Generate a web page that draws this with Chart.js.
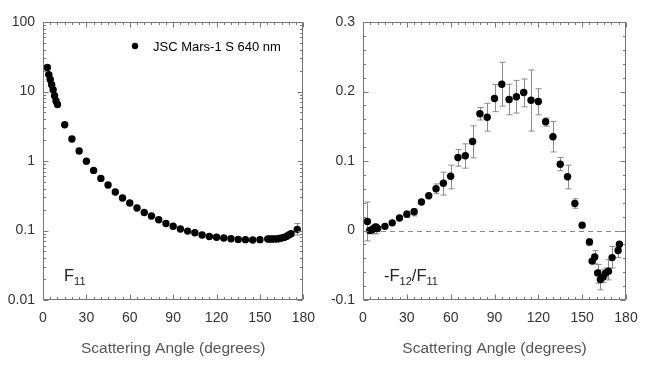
<!DOCTYPE html>
<html>
<head>
<meta charset="utf-8">
<script src="https://cdn.jsdelivr.net/npm/chart.js@4.4.1/dist/chart.umd.min.js"></script>
<style>
body{margin:0;background:#fff;width:650px;height:382px;position:relative;overflow:hidden}
canvas{position:absolute;top:0}
</style>
</head>
<body>
<canvas id="chartF11" width="325" height="382" style="left:0"></canvas>
<canvas id="chartPol" width="325" height="382" style="left:325px"></canvas>
<script>
// tick labels
var xTicks = [0, 30, 60, 90, 120, 150, 180];
var f11Ticks = [0.01, 0.1, 1, 10, 100];
var polTicks = [-0.1, 0, 0.1, 0.2, 0.3];

// F11 (left panel)
var f11Angle = [3, 4, 5, 6, 7, 8, 9, 10, 15, 20, 25, 30, 35, 40, 45, 50, 55, 60, 65, 70, 75, 80, 85, 90, 95, 100,
	105, 110, 115, 120, 125, 130, 135, 140, 145, 150, 155.4, 157, 158.6, 160.2, 161.9, 163.5, 165, 166.7, 168.3, 169.9, 171.5, 175.8];
var f11Value = [22.2, 17.5, 14.9, 12.5, 10.6, 8.7, 7.3, 6.5, 3.33, 2.07, 1.39, 0.99, 0.733, 0.562, 0.452, 0.358, 0.294, 0.249,
	0.211, 0.182, 0.162, 0.143, 0.126, 0.115, 0.105, 0.098, 0.093, 0.086, 0.082, 0.080, 0.078, 0.076, 0.0745, 0.0738, 0.073,
	0.0738, 0.0755, 0.0755, 0.0755, 0.0757, 0.0757, 0.0769, 0.078, 0.0796, 0.0822, 0.0861, 0.09, 0.1038];
var f11ErrAngle = [175.8];
var f11ErrLo = [0.086];
var f11ErrHi = [0.126];

// -F12/F11 (right panel)
var polAngle = [3, 4.6, 6, 7.3, 8.7, 10, 15, 20, 25, 30, 35, 40, 45, 50, 55, 60, 65, 70, 75, 80, 85, 90, 95, 100, 105, 110,
	115, 120, 125, 130, 135, 140, 145, 150, 155, 156.8, 158.6, 160.6, 162.5, 164.3, 166.1, 168, 170.5, 174.6, 175.5];
var polValue = [0.013, 0.0, 0.001, 0.003, 0.005, 0.003, 0.006, 0.011, 0.018, 0.0235, 0.027, 0.041, 0.050, 0.060, 0.068, 0.078,
	0.105, 0.1075, 0.128, 0.168, 0.163, 0.190, 0.2105, 0.1885, 0.1924, 0.1986, 0.1875, 0.1856, 0.1564, 0.1348, 0.0954, 0.0773,
	0.0388, 0.0077, -0.0165, -0.044, -0.038, -0.061, -0.0705, -0.067, -0.061, -0.0585, -0.039, -0.0288, -0.0197];
var polErrLo = [-0.015, null, null, -0.005, -0.004, null, null, null, null, 0.019, 0.021, null, null, 0.053, 0.051, 0.060,
	0.0925, 0.0897, 0.1046, 0.159, 0.143, 0.171, 0.179, 0.1665, 0.169, 0.178, 0.143, 0.1665, 0.150, 0.113, 0.086, 0.060,
	0.032, null, -0.021, null, -0.048, -0.0758, -0.0853, -0.075, -0.068, -0.071, -0.054, -0.039, null];
var polErrHi = [0.041, null, null, 0.009, 0.009, null, null, null, null, 0.028, 0.031, null, null, 0.067, 0.084, 0.094,
	0.1165, 0.1247, 0.1506, 0.177, 0.183, 0.21, 0.242, 0.2105, 0.216, 0.218, 0.231, 0.204, 0.162, 0.157, 0.105, 0.094,
	0.0456, null, -0.012, null, -0.029, -0.049, -0.0566, -0.06, -0.054, -0.042, -0.023, -0.025, null];

Chart.defaults.font.family = "'Liberation Sans', Arial, sans-serif";

function toPoints(xs, ys){
	var pts = [];
	for(var i=0; i<xs.length; i++){
		pts.push({x: xs[i], y: ys[i]});
	}
	return pts;
}

// frame, inner ticks, error bars and in-plot labels
var framePlugin = {
	id: 'frame',
	beforeDatasetsDraw: function(chart, args, o){
		var ctx = chart.ctx, a = chart.chartArea;
		var xs = chart.scales.x, ys = chart.scales.y;
		ctx.save();
		ctx.lineWidth = 1;
		if(o.zeroLine){
			var y0 = Math.round(ys.getPixelForValue(0)) + 0.5;
			ctx.strokeStyle = '#888';
			ctx.setLineDash([5, 4]);
			ctx.beginPath(); ctx.moveTo(a.left, y0); ctx.lineTo(a.right, y0); ctx.stroke();
			ctx.setLineDash([]);
		}
		ctx.strokeStyle = '#8a8a8a';
		(o.bars || []).forEach(function(b){
			var x = Math.round(xs.getPixelForValue(b.x)) + 0.5;
			var y1 = ys.getPixelForValue(b.lo), y2 = ys.getPixelForValue(b.hi);
			ctx.beginPath();
			ctx.moveTo(x, y1); ctx.lineTo(x, y2);
			ctx.moveTo(x-3, y1); ctx.lineTo(x+3, y1);
			ctx.moveTo(x-3, y2); ctx.lineTo(x+3, y2);
			ctx.stroke();
		});
		ctx.restore();
	},
	afterDraw: function(chart, args, o){
		var ctx = chart.ctx, a = chart.chartArea;
		var xs = chart.scales.x, ys = chart.scales.y;
		var L = Math.round(a.left)+0.5, R = Math.round(a.right)-0.5, T = Math.round(a.top)+0.5, B = Math.round(a.bottom)-0.5;
		ctx.save();
		ctx.strokeStyle = '#777';
		ctx.lineWidth = 1;
		ctx.strokeRect(L, T, R-L, B-T);
		ctx.beginPath();
		for(var d=0; d<=180; d+=5){
			var x = Math.round(xs.getPixelForValue(d))+0.5;
			var len = (d % 30 === 0) ? 5 : 2.5;
			ctx.moveTo(x, B); ctx.lineTo(x, B-len);
			ctx.moveTo(x, T); ctx.lineTo(x, T+len);
		}
		o.yMinor.forEach(function(v){
			var y = Math.round(ys.getPixelForValue(v.v))+0.5;
			var len = v.major ? 5 : 2.5;
			ctx.moveTo(L, y); ctx.lineTo(L+len, y);
			ctx.moveTo(R, y); ctx.lineTo(R-len, y);
		});
		ctx.stroke();

		// panel label with subscripts
		ctx.fillStyle = '#222';
		ctx.textBaseline = 'alphabetic';
		var px = a.left + 21, py = a.bottom - 19;
		o.label.forEach(function(part){
			ctx.font = (part.sub ? '11px ' : '16.5px ') + Chart.defaults.font.family;
			ctx.fillText(part.t, px, part.sub ? py + 4 : py);
			px += ctx.measureText(part.t).width;
		});

		if(o.legend){
			var lx = a.left + 92, ly = a.top + 24;
			ctx.fillStyle = '#000';
			ctx.beginPath(); ctx.arc(lx, ly, 3.2, 0, Math.PI*2); ctx.fill();
			ctx.font = '13px ' + Chart.defaults.font.family;
			ctx.textBaseline = 'middle';
			ctx.fillText(chart.data.datasets[0].label, lx + 18, ly + 1);
		}
		ctx.restore();
	}
};

function makeChart(id, points, yOpts, frameOpts, yWidth, padRight){
	var ctx = document.getElementById(id).getContext('2d');
	return new Chart(ctx, {
		type: 'scatter',
		data: {
			datasets: [{
				label: frameOpts.name,
				data: points,
				backgroundColor: '#000',
				borderWidth: 0,
				pointRadius: 3.7,
				pointHoverRadius: 3.7
			}]
		},
		options: {
			responsive: false,
			animation: false,
			layout: { padding: { top: 22, right: padRight, bottom: 24, left: 0 } },
			plugins: {
				legend: { display: false },
				tooltip: { enabled: false },
				frame: frameOpts
			},
			scales: {
				x: {
					type: 'linear', min: 0, max: 180,
					afterBuildTicks: function(s){ s.ticks = xTicks.map(function(v){ return {value: v}; }); },
					afterFit: function(s){ s.height = 58; },
					grid: { display: false, drawTicks: false },
					border: { display: false },
					ticks: { padding: 10, color: '#333', font: { size: 14 }, maxRotation: 0 },
					title: { display: true, text: 'Scattering Angle (degrees)', color: '#555', font: { size: 15.5 }, padding: 0 }
				},
				y: Object.assign({
					afterFit: function(s){ s.width = yWidth; },
					grid: { display: false, drawTicks: false },
					border: { display: false }
				}, yOpts)
			}
		},
		plugins: [framePlugin]
	});
}

// left panel: log scale minor ticks
var f11Minor = [];
for(var e=-2; e<2; e++){
	for(var k=1; k<10; k++) f11Minor.push({v: k*Math.pow(10, e), major: k===1});
}
f11Minor.push({v: 100, major: true});

var f11Bars = f11ErrAngle.map(function(x, i){ return {x: x, lo: f11ErrLo[i], hi: f11ErrHi[i]}; });

makeChart('chartF11', toPoints(f11Angle, f11Value), {
	type: 'logarithmic', min: 0.01, max: 100,
	afterBuildTicks: function(s){ s.ticks = f11Ticks.map(function(v){ return {value: v}; }); },
	ticks: { padding: 8, color: '#333', font: { size: 14 }, callback: function(v){ return String(v); } }
}, {
	name: 'JSC Mars-1 S 640 nm',
	yMinor: f11Minor,
	bars: f11Bars,
	legend: true,
	label: [{t: 'F'}, {t: '11', sub: true}]
}, 43, 20);

// right panel
var polMinor = [];
for(var j=0; j<=20; j++) polMinor.push({v: -0.1 + j*0.02, major: j % 5 === 0});
var polBars = [];
for(var i=0; i<polAngle.length; i++){
	if(polErrLo[i] !== null) polBars.push({x: polAngle[i], lo: polErrLo[i], hi: polErrHi[i]});
}

makeChart('chartPol', toPoints(polAngle, polValue), {
	type: 'linear', min: -0.1, max: 0.3,
	afterBuildTicks: function(s){ s.ticks = polTicks.map(function(v){ return {value: v}; }); },
	ticks: { padding: 8, color: '#333', font: { size: 14 }, callback: function(v){ return String(v); } }
}, {
	name: '-F12/F11',
	yMinor: polMinor,
	bars: polBars,
	zeroLine: true,
	label: [{t: '-F'}, {t: '12', sub: true}, {t: '/F'}, {t: '11', sub: true}]
}, 38, 24);
</script>
</body>
</html>
